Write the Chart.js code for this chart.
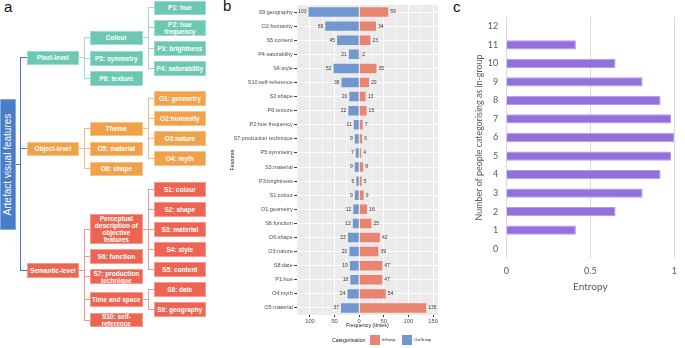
<!DOCTYPE html>
<html><head><meta charset="utf-8">
<script src="https://cdn.jsdelivr.net/npm/chart.js@4.4.0/dist/chart.umd.min.js"></script>
<style>
html,body{margin:0;padding:0;background:#fff;width:685px;height:348px;overflow:hidden;position:relative;font-family:"Liberation Sans",Arial,sans-serif;}
.box{position:absolute;display:flex;align-items:center;justify-content:center;text-align:center;color:#fff;font-weight:bold;font-size:6.5px;line-height:7.1px;box-sizing:border-box;white-space:nowrap;}
.ln{position:absolute;}
.plabel{position:absolute;font-size:15px;color:#111;font-family:"Liberation Sans",Arial,sans-serif;}
canvas{position:absolute;}
.lg{position:absolute;color:#1a1a1a;font-family:"Liberation Sans",Arial,sans-serif;}
</style></head>
<body>
<div class="plabel" style="left:4px;top:-2px;">a</div>
<div class="plabel" style="left:223px;top:-3px;">b</div>
<div class="plabel" style="left:453px;top:-2px;">c</div>
<div id="tree"></div>
<canvas id="cb" width="224" height="348" style="left:226px;top:0;"></canvas>
<canvas id="cc" width="230" height="348" style="left:455px;top:0;"></canvas>
<div class="lg" style="left:332px;top:336.5px;font-size:5.2px;line-height:7px;">Categorisation</div>
<div style="position:absolute;left:370px;top:335px;width:9.5px;height:9.5px;background:#e8846f;"></div>
<div class="lg" style="left:381.7px;top:337.5px;font-size:3.8px;line-height:5px;">InGroup</div>
<div style="position:absolute;left:402.3px;top:335px;width:9.5px;height:9.5px;background:#7097d0;"></div>
<div class="lg" style="left:414.3px;top:337.5px;font-size:3.8px;line-height:5px;">OutGroup</div>
<script>
// ---------- Panel b data ----------
const features = ['S9:geography','O2:humanity','S5:content','P4:saturability','S4:style','S10:self-reference','S2:shape','P6:texture','P2:hue frequency','S7:production technique','P5:symmetry','S3:material','P3:brightness','S1:colour','O1:geometry','S6:function','O6:shape','O3:nature','S8:date','P1:hue','O4:myth','O5:material'];
const outGroup = [103,69,45,21,52,36,20,22,11,9,7,9,6,9,12,13,23,20,19,18,24,37];
const inGroup  = [59,34,23,2,35,20,13,15,7,6,4,8,5,9,16,25,42,39,47,47,54,136];

// ---------- Panel c data ----------
const peopleCounts = ['12','11','10','9','8','7','6','5','4','3','2','1','0'];
const entropy = [0,0.414,0.650,0.811,0.918,0.980,1.0,0.980,0.918,0.811,0.650,0.414,0];

// ---------- Panel a (tree diagram) ----------
const palette = {
  blue:{box:'#4a7dc7', line:'#4a72c0'},
  teal:{box:'#6cc8b3', line:'#9adccc'},
  orange:{box:'#f0a149', line:'#f5bb78'},
  red:{box:'#ee6452', line:'#f4978a'}
};
const nodes = [
  {id:'root', t:'Artefact visual features', x:0, y:99, w:16, h:131, c:'blue', rot:true, spine:20.7},
  {id:'pix', p:'root', t:'Pixel-level', x:26.7, y:50.7, w:52.3, h:14.5, c:'teal', spine:84.3},
  {id:'obj', p:'root', t:'Object-level', x:26.7, y:141.7, w:52.3, h:14.3, c:'orange', spine:84.3},
  {id:'sem', p:'root', t:'Semantic-level', x:26.7, y:263.3, w:52.3, h:15, c:'red', spine:84.3},
  {id:'col', p:'pix', t:'Colour', x:90, y:30.7, w:52.7, h:14.5, c:'teal', spine:148.3},
  {p:'pix', t:'P5: symmetry', x:90, y:50.7, w:52.7, h:15, c:'teal'},
  {p:'pix', t:'P6: texture', x:90, y:70.7, w:52.7, h:15, c:'teal'},
  {p:'col', t:'P1: hue', x:154, y:0.5, w:51.7, h:14.5, c:'teal'},
  {p:'col', t:'P2: hue<br>frequency', x:154, y:20, w:51.7, h:15.5, c:'teal'},
  {p:'col', t:'P3: brightness', x:154, y:40.7, w:51.7, h:15, c:'teal'},
  {p:'col', t:'P4: saturability', x:154, y:60.7, w:51.7, h:15, c:'teal'},
  {id:'theme', p:'obj', t:'Theme', x:90, y:121.7, w:52.7, h:14, c:'orange', spine:148.3},
  {p:'obj', t:'O5: material', x:90, y:141.7, w:52.7, h:14, c:'orange'},
  {p:'obj', t:'O6: shape', x:90, y:161.7, w:52.7, h:14.3, c:'orange'},
  {p:'theme', t:'O1: geometry', x:154, y:91, w:51.7, h:15, c:'orange'},
  {p:'theme', t:'O2:humanity', x:154, y:111, w:51.7, h:15, c:'orange'},
  {p:'theme', t:'O3:nature', x:154, y:131, w:51.7, h:15, c:'orange'},
  {p:'theme', t:'O4: myth', x:154, y:151, w:51.7, h:15, c:'orange'},
  {id:'perc', p:'sem', t:'Perceptual<br>description of<br>objective<br>features', x:90, y:214, w:52.7, h:30, c:'red', spine:148.3},
  {p:'sem', t:'S6: function', x:90, y:249.3, w:52.7, h:15, c:'red'},
  {p:'sem', t:'S7: production<br>technique', x:90, y:269.3, w:52.7, h:15, c:'red'},
  {id:'ts', p:'sem', t:'Time and space', x:90, y:292.3, w:52.7, h:14.4, c:'red', spine:148.3},
  {p:'sem', t:'S10: self-<br>reference', x:90, y:312.7, w:52.7, h:14.6, c:'red'},
  {p:'perc', t:'S1: colour', x:154, y:181.7, w:51.7, h:15, c:'red'},
  {p:'perc', t:'S2: shape', x:154, y:201.7, w:51.7, h:15, c:'red'},
  {p:'perc', t:'S3: material', x:154, y:221.7, w:51.7, h:15, c:'red'},
  {p:'perc', t:'S4: style', x:154, y:241.7, w:51.7, h:15, c:'red'},
  {p:'perc', t:'S5: content', x:154, y:261.7, w:51.7, h:15, c:'red'},
  {p:'ts', t:'S8: date', x:154, y:282.3, w:51.7, h:15, c:'red'},
  {p:'ts', t:'S9: geography', x:154, y:302.3, w:51.7, h:15, c:'red'}
];
(function drawTree(){
  const tree = document.getElementById('tree');
  function line(x,y,w,h,col){ const d=document.createElement('div'); d.className='ln';
    d.style.cssText=`left:${x}px;top:${y}px;width:${w}px;height:${h}px;background:${col};`; tree.appendChild(d); }
  nodes.forEach(par=>{
    if(!par.id) return;
    const kids = nodes.filter(k=>k.p===par.id); if(!kids.length) return;
    const col = par.id==='root' ? palette.blue.line : palette[kids[0].c].line;
    const sx = par.spine; const pcy = par.y+par.h/2;
    const cys = kids.map(k=>k.y+k.h/2);
    const top = Math.min(pcy, ...cys), bot = Math.max(pcy, ...cys);
    line(sx-0.5, top-0.5, 1, bot-top+1, col);
    line(par.x+par.w, pcy-0.5, sx-(par.x+par.w), 1, col);
    kids.forEach((k,i)=> line(sx, cys[i]-0.5, k.x-sx, 1, col));
  });
  nodes.forEach(n=>{
    const d=document.createElement('div'); d.className='box';
    d.style.cssText+=`left:${n.x}px;top:${n.y}px;width:${n.w}px;height:${n.h}px;background:${palette[n.c].box};border:0.6px solid rgba(255,255,255,0.35);`;
    if(n.rot){
      d.innerHTML=`<span style="display:inline-block;transform:rotate(-90deg);font-size:10px;font-weight:normal;white-space:nowrap;">${n.t}</span>`;
    } else d.innerHTML=n.t;
    tree.appendChild(d);
  });
})();

// ---------- Chart b ----------
const panelBg = {id:'panelBg', beforeDraw(chart, args, opts){
  const {ctx, chartArea:a} = chart; ctx.save(); ctx.fillStyle=opts.color; ctx.fillRect(a.left,a.top,a.right-a.left,a.bottom-a.top); ctx.restore(); }};
const valueLabels = {id:'valueLabels', afterDatasetsDraw(chart){
  const ctx=chart.ctx; ctx.save(); ctx.font='5px "Liberation Sans", Arial'; ctx.fillStyle='#333'; ctx.textBaseline='middle';
  chart.data.datasets.forEach((ds,i)=>{
    chart.getDatasetMeta(i).data.forEach((el,j)=>{
      const v=ds.data[j];
      if(v<0){ ctx.textAlign='right'; ctx.fillText(String(-v), el.x-2, el.y); }
      else { ctx.textAlign='left'; ctx.fillText(String(v), el.x+2, el.y); }
    });
  });
  ctx.restore(); }};

Chart.defaults.font.family = '"Liberation Sans", Arial, sans-serif';

new Chart(document.getElementById('cb'), {
  type:'bar',
  data:{labels:features, datasets:[
    {label:'OutGroup', data:outGroup.map(v=>-v), backgroundColor:'#7097d0', stack:'s'},
    {label:'InGroup', data:inGroup, backgroundColor:'#e8846f', stack:'s'}
  ]},
  options:{
    indexAxis:'y', responsive:false, animation:false,
    layout:{padding:{top:5,right:12,left:0,bottom:0}},
    datasets:{bar:{categoryPercentage:1, barPercentage:0.67}},
    plugins:{legend:{display:false}, tooltip:{enabled:false}, panelBg:{color:'#ebebeb'}},
    scales:{
      x:{stacked:true, min:-127, max:160,
        ticks:{stepSize:25, includeBounds:false, autoSkip:false, maxRotation:0, padding:0.5,
          callback:v=> (v%50===0) ? String(Math.abs(v)) : '', font:{size:5.8}, color:'#4d4d4d'},
        grid:{color:'#ffffff', lineWidth:c=> (c.tick && c.tick.value%50===0) ? 1 : 0.5, tickLength:2,
          tickColor:c=> (c.tick && c.tick.value%50===0) ? '#333' : 'rgba(0,0,0,0)'},
        border:{display:false},
        title:{display:true, text:'Frequency (times)', font:{size:5.3}, color:'#1a1a1a', padding:{top:0,bottom:19}},
        afterFit:s=>{s.height=33;}
      },
      y:{stacked:true,
        ticks:{autoSkip:false, font:{size:5.5}, color:'#4d4d4d', padding:1.5},
        grid:{offset:false, color:'#ffffff', lineWidth:1, tickLength:2.5, tickColor:'#333'},
        border:{display:false},
        title:{display:true, text:'Features', font:{size:5.3}, color:'#1a1a1a', padding:{top:3,bottom:0}},
        afterFit:s=>{s.width=70.7;}
      }
    }
  },
  plugins:[panelBg, valueLabels]
});

// ---------- Chart c ----------
new Chart(document.getElementById('cc'), {
  type:'bar',
  data:{labels:peopleCounts, datasets:[{data:entropy, backgroundColor:'#9370db', borderColor:'#b49bea', borderWidth:1, categoryPercentage:1, barPercentage:0.5}]},
  options:{
    indexAxis:'y', responsive:false, animation:false,
    layout:{padding:{top:17,right:2.7,left:0,bottom:0}},
    plugins:{legend:{display:false}, tooltip:{enabled:false}},
    scales:{
      x:{min:0, max:1,
        ticks:{stepSize:0.5, callback:v=> v===0?'0':(v===0.5?'0.5':'1'), font:{size:9, family:'Lato'}, color:'#595959', padding:8, maxRotation:0},
        grid:{color:'#d9d9d9', drawTicks:false},
        border:{display:false},
        title:{display:true, text:'Entropy', font:{size:10, family:'Lato'}, color:'#595959', padding:{top:0,bottom:55}},
        afterFit:s=>{s.height=90;}
      },
      y:{
        ticks:{font:{size:9, family:'Lato'}, color:'#595959', padding:8},
        grid:{display:false, drawTicks:false},
        border:{display:false},
        title:{display:true, text:'Number of people categorising as in-group', font:{size:8.9, family:'Lato'}, color:'#595959', padding:{top:18.5,bottom:0}},
        afterFit:s=>{s.width=51.3;}
      }
    }
  }
});
</script>
</body></html>
